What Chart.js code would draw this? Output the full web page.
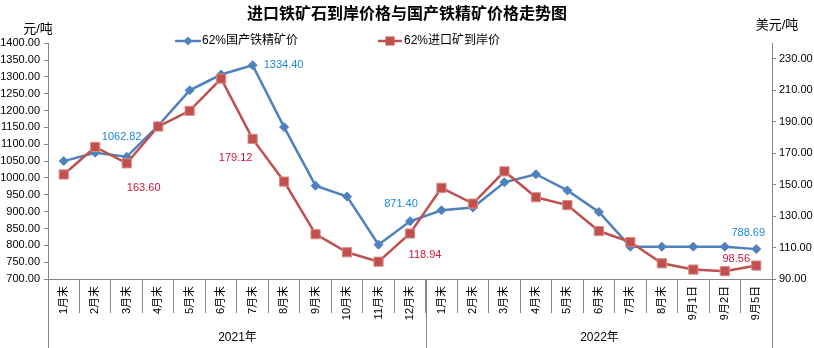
<!DOCTYPE html>
<html>
<head>
<meta charset="utf-8">
<script src="https://cdn.jsdelivr.net/npm/chart.js@4.4.0/dist/chart.umd.min.js"></script>
<style>
    html, body { margin: 0; padding: 0; background: #fff; }
    #wrap { width: 814px; height: 348px; }
</style>
</head>
<body>
<div id="wrap"><canvas id="myChart" width="814" height="348"></canvas></div>
<script>
// categories
var months2021 = ['1月末', '2月末', '3月末', '4月末', '5月末', '6月末', '7月末', '8月末', '9月末', '10月末', '11月末', '12月末'];
var months2022 = ['1月末', '2月末', '3月末', '4月末', '5月末', '6月末', '7月末', '8月末', '9月1日', '9月2日', '9月5日'];
var categories = months2021.concat(months2022);
var yearNames = ['2021年', '2022年'];
var yearSizes = [12, 11];

// 62%国产铁精矿价, 元/吨 (left axis)
var domesticPrice = [1050, 1075, 1062.82, 1155, 1260, 1307, 1334.40, 1151, 977, 945, 802, 871.40,
                     904, 912, 987, 1011, 963, 899, 796, 796, 796, 796, 788.69];
// 62%进口矿到岸价, 美元/吨 (right axis)
var importPrice = [156.5, 174, 163.60, 187, 197, 217.5, 179.12, 152, 118.5, 107, 101, 118.94,
                   148, 138, 158.5, 142, 137, 120.5, 113.5, 100, 96, 95, 98.56];

// tick labels
var leftTicks = [700, 750, 800, 850, 900, 950, 1000, 1050, 1100, 1150, 1200, 1250, 1300, 1350, 1400];
var rightTicks = [90, 110, 130, 150, 170, 190, 210, 230];

// points that carry a value label
var labelIdx = [2, 6, 11, 22];

var fontFam = "'Liberation Sans', 'Noto Sans CJK SC', sans-serif";
var axisGray = '#868686';
var blue = '#4F81BD';
var red = '#C0504D';

// label offsets from the point (px), per dataset
var labelOffsets = [
    { 2: [-5, -20], 6: [31, 0], 11: [-9, -17], 22: [-8, -16] },
    { 2: [17, 25], 6: [-17, 19], 11: [15, 21], 22: [-20, -7] }
];
var labelColors = ['#1f87d8', '#cc1636'];

function diamond(ctx, x, y, r) {
    ctx.beginPath();
    ctx.moveTo(x, y - r); ctx.lineTo(x + r, y); ctx.lineTo(x, y + r); ctx.lineTo(x - r, y);
    ctx.closePath(); ctx.fill();
}

var extras = {
    id: 'extras',
    afterDraw: function(chart) {
        var ctx = chart.ctx, x = chart.scales.x, area = chart.chartArea;
        ctx.save();

        // units
        ctx.fillStyle = '#000';
        ctx.font = '13px ' + fontFam;
        ctx.textAlign = 'center';
        ctx.textBaseline = 'middle';
        ctx.fillText('元/吨', 38, 29);
        ctx.fillText('美元/吨', 777, 25);

        // legend
        ctx.font = '12px ' + fontFam;
        ctx.textAlign = 'left';
        ctx.lineWidth = 2.5;
        ctx.strokeStyle = blue; ctx.fillStyle = blue;
        ctx.beginPath(); ctx.moveTo(175, 41); ctx.lineTo(201, 41); ctx.stroke();
        diamond(ctx, 188, 41, 4.5);
        ctx.fillStyle = '#000';
        ctx.fillText(chart.data.datasets[0].label, 202, 41);
        ctx.strokeStyle = red; ctx.fillStyle = red;
        ctx.beginPath(); ctx.moveTo(378, 41); ctx.lineTo(402, 41); ctx.stroke();
        ctx.fillRect(385.5, 36.5, 9, 9);
        ctx.fillStyle = '#000';
        ctx.fillText(chart.data.datasets[1].label, 404, 41);

        // year groups below the axis
        var half = (x.getPixelForValue(1) - x.getPixelForValue(0)) / 2;
        var start = 0;
        ctx.strokeStyle = axisGray;
        ctx.lineWidth = 1;
        ctx.textAlign = 'center';
        for (var g = 0; g < yearNames.length; g++) {
            var left = Math.round(x.getPixelForValue(start) - half) + 0.5;
            var right = Math.round(x.getPixelForValue(start + yearSizes[g] - 1) + half) + 0.5;
            ctx.beginPath();
            ctx.moveTo(left, area.bottom); ctx.lineTo(left, chart.height);
            ctx.moveTo(right, area.bottom); ctx.lineTo(right, chart.height);
            ctx.stroke();
            ctx.fillText(yearNames[g], (left + right) / 2, 338);
            start += yearSizes[g];
        }

        // value labels
        ctx.font = '11px ' + fontFam;
        for (var d = 0; d < 2; d++) {
            var meta = chart.getDatasetMeta(d);
            var vals = chart.data.datasets[d].data;
            ctx.fillStyle = labelColors[d];
            labelIdx.forEach(function(i) {
                var pt = meta.data[i];
                var off = labelOffsets[d][i];
                ctx.fillText(vals[i].toFixed(2), pt.x + off[0], pt.y + off[1]);
            });
        }
        ctx.restore();
    }
};

var ctx = document.getElementById('myChart').getContext('2d');
var myChart = new Chart(ctx, {
    type: 'line',
    data: {
        labels: categories,
        datasets: [{
            label: '62%国产铁精矿价',
            data: domesticPrice,
            yAxisID: 'y',
            borderColor: blue,
            backgroundColor: blue,
            borderWidth: 2.5,
            pointStyle: 'rectRot',
            pointRadius: 4.5,
            pointBorderWidth: 1,
            order: 1
        }, {
            label: '62%进口矿到岸价',
            data: importPrice,
            yAxisID: 'y1',
            borderColor: red,
            backgroundColor: red,
            borderWidth: 2.5,
            pointStyle: 'rect',
            pointRadius: 6.5,
            pointBorderWidth: 1,
            pointBorderColor: '#d98b89',
            order: 0
        }]
    },
    options: {
        responsive: false,
        animation: false,
        devicePixelRatio: 1,
        layout: { padding: 0 },
        plugins: {
            legend: { display: false },
            tooltip: { enabled: false },
            title: {
                display: true,
                text: '进口铁矿石到岸价格与国产铁精矿价格走势图',
                color: '#000',
                font: { size: 16, weight: 'bold', family: "'Noto Sans CJK SC', sans-serif" },
                padding: { top: 3, bottom: 21 }
            }
        },
        scales: {
            x: {
                offset: true,
                border: { color: axisGray },
                grid: { offset: true, drawOnChartArea: false, drawTicks: true, tickLength: 34, color: axisGray },
                ticks: { minRotation: 90, maxRotation: 90, autoSkip: false, padding: -27, color: '#000',
                         font: { size: 11, family: fontFam } },
                afterFit: function(s) { s.height = 69; }
            },
            y: {
                position: 'left',
                min: 700,
                max: 1400,
                afterBuildTicks: function(s) { s.ticks = leftTicks.map(function(v) { return { value: v }; }); },
                border: { color: axisGray },
                grid: { drawOnChartArea: false, tickLength: 4, color: axisGray },
                ticks: { padding: 4, color: '#000', font: { size: 11, family: fontFam },
                         callback: function(v) { return v.toFixed(2); } },
                afterFit: function(s) { s.width = 48; }
            },
            y1: {
                position: 'right',
                min: 90,
                max: 240,
                afterBuildTicks: function(s) { s.ticks = rightTicks.map(function(v) { return { value: v }; }); },
                border: { color: axisGray },
                grid: { drawOnChartArea: false, tickLength: 4, color: axisGray },
                ticks: { padding: 3, color: '#000', font: { size: 11, family: fontFam },
                         callback: function(v) { return v.toFixed(2); } },
                afterFit: function(s) { s.width = 42; }
            }
        }
    },
    plugins: [extras]
});
</script>
</body>
</html>
